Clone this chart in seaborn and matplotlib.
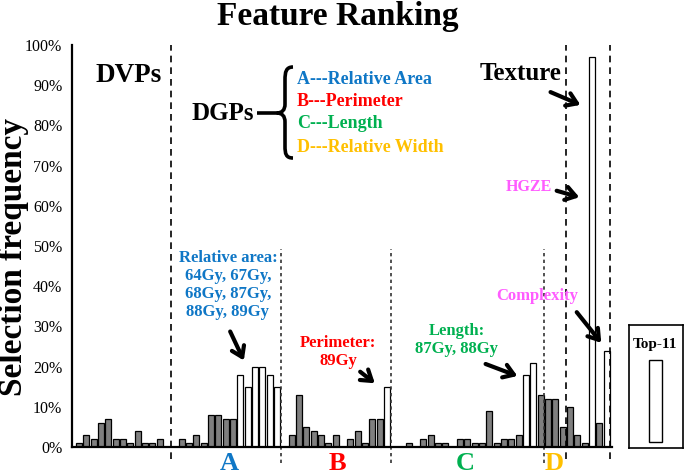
import numpy as np
import pandas as pd
import seaborn as sns
import matplotlib.pyplot as plt
from matplotlib.patches import Rectangle, PathPatch
from matplotlib.path import Path
from matplotlib.transforms import Affine2D

# selection frequency (%) of every feature, one list per feature group
dvp = [1, 3, 2, 6, 7, 2, 2, 1, 4, 1, 1, 2, 0]
rel_area = [0, 2, 1, 3, 1, 8, 8, 7, 7, 18, 15, 20, 20, 18, 15]
perimeter = [0, 3, 13, 5, 4, 3, 1, 3, 0, 2, 4, 1, 7, 7, 15]
length = [0, 0, 1, 0, 2, 3, 1, 1, 0, 2, 2, 1, 1, 9, 1, 2, 2, 3, 18, 21, 13]
rel_width = [12, 12, 5]
texture = [10, 3, 1, 97, 6, 24]
group_vals = [dvp, rel_area, perimeter, length, rel_width, texture]
# positions of the top-11 features in the full sequence
top11 = [22, 23, 24, 25, 26, 27, 42, 61, 62, 70, 72]

yticks = list(range(0, 101, 10))
ytick_labels = [f"{v}%" for v in yticks]

BLUE, RED, GREEN, GOLD, PINK = "#0f77c6", "#ff0000", "#00b050", "#ffc000", "#ff5cff"

W, H = 685, 475

sns.set_theme(style="white")
plt.rcParams["font.family"] = ["Liberation Serif", "DejaVu Serif"]
plt.rcParams["font.weight"] = "bold"
plt.rcParams["text.color"] = "black"
plt.rcParams["axes.labelcolor"] = "black"
plt.rcParams["ytick.color"] = "black"

freq = np.concatenate(group_vals)
df = pd.DataFrame({"slot": np.arange(len(freq)), "freq": freq})
df["kind"] = np.where(df["slot"].isin(top11), "top", "other")

fig = plt.figure(figsize=(W / 100, H / 100), dpi=100)
ax = fig.add_axes([72 / W, 28 / H, 540 / W, 402 / H])
# pixel coordinates (origin top-left) -> figure
px = Affine2D().scale(1 / W, -1 / H).translate(0, 1) + fig.transFigure

sns.barplot(data=df, x="slot", y="freq", hue="kind",
            palette={"other": "#7f7f7f", "top": "white"}, dodge=False,
            width=0.82, edgecolor="black", linewidth=0.9, legend=False, ax=ax)

ax.set_xlim(-0.955, 72.72)
ax.set_ylim(0, 100)
ax.set_xticks([])
ax.set_xlabel("")
ax.set_ylabel("")
ax.set_yticks(yticks)
ax.set_yticklabels(ytick_labels, fontsize=11.5, fontweight="normal", color="black")
ax.tick_params(axis="y", direction="in", length=6, width=1.5, pad=7, colors="black")
for s in ["top", "right"]:
    ax.spines[s].set_visible(False)
for s in ["left", "bottom"]:
    ax.spines[s].set_linewidth(1.6)
    ax.spines[s].set_color("black")

# group dividers
ends = np.cumsum([len(g) for g in group_vals]) - 0.5
for i, x in enumerate(ends):
    if i in (0, 4, 5):
        ax.plot([x, x], [-3, 100], ls=(0, (4, 3)), lw=1.2, color="black", clip_on=False)
    else:
        ax.plot([x, x], [-4, 49.3], ls=(0, (2, 2)), lw=1.2, color="#333333", clip_on=False)

# titles and labels
fig.text(338 / W, 1 - 17 / H, "Feature Ranking", ha="center", va="center", fontsize=24)
fig.text(14 / W, 1 - 257 / H, "Selection frequency", ha="center", va="center",
         rotation=90, fontsize=24)

ax.text(129, 75, "DVPs", transform=px, ha="center", va="center", fontsize=19.5)
ax.text(223, 114, "DGPs", transform=px, ha="center", va="center", fontsize=18)
ax.text(521, 73, "Texture", transform=px, ha="center", va="center", fontsize=18)

legend_lines = [("A---Relative Area", BLUE, 79), ("B---Perimeter", RED, 102),
                ("C---Length", GREEN, 124), ("D---Relative Width", GOLD, 147)]
for s, c, y in legend_lines:
    ax.text(297, y, s, transform=px, ha="left", va="center", fontsize=13, color=c)

# curly brace
verts = [(257, 113), (277, 113),
         (293, 67), (286, 67), (285, 72), (285, 80), (285, 104),
         (285, 110), (282, 113), (277, 113),
         (282, 113), (285, 116), (285, 122), (285, 146),
         (285, 154), (286, 158), (293, 158)]
codes = [Path.MOVETO, Path.LINETO,
         Path.MOVETO, Path.CURVE4, Path.CURVE4, Path.CURVE4, Path.LINETO,
         Path.CURVE4, Path.CURVE4, Path.CURVE4,
         Path.CURVE4, Path.CURVE4, Path.CURVE4, Path.LINETO,
         Path.CURVE4, Path.CURVE4, Path.CURVE4]
fig.add_artist(PathPatch(Path(verts, codes), transform=px, fill=False, lw=2.6, color="black"))

# callouts
ax.text(228, 285, "Relative area:\n64Gy, 67Gy,\n68Gy, 87Gy,\n88Gy, 89Gy", transform=px,
        ha="center", va="center", fontsize=12, color=BLUE, linespacing=1.15)
ax.text(338, 352, "Perimeter:\n89Gy", transform=px, ha="center", va="center",
        fontsize=12, color=RED, linespacing=1.15)
ax.text(457, 340, "Length:\n87Gy, 88Gy", transform=px, ha="center", va="center",
        fontsize=12, color=GREEN, linespacing=1.15)
ax.text(529, 187, "HGZE", transform=px, ha="center", va="center", fontsize=11.5, color=PINK)
ax.text(537, 296, "Complexity", transform=px, ha="center", va="center", fontsize=12, color=PINK)

arrow = dict(arrowstyle="->, head_length=0.6, head_width=0.4", lw=3.0, color="black")
arrows = [((229, 329), (245, 363)), ((358, 370), (377, 385)), ((483, 363), (520, 377)),
          ((548, 91), (583, 106)), ((554, 190), (582, 198)), ((575, 310), (603, 345))]
for (x0, y0), (x1, y1) in arrows:
    ax.annotate("", xy=(x1, y1), xytext=(x0, y0), xycoords=px, textcoords=px,
                arrowprops=arrow, annotation_clip=False)

# section letters
for s, c, x in [("A", BLUE, 229), ("B", RED, 337), ("C", GREEN, 465), ("D", GOLD, 554)]:
    ax.text(x, 464, s, transform=px, ha="center", va="center", fontsize=19, color=c)

# top-11 key
kax = fig.add_axes([629 / W, 1 - 448 / H, 54 / W, 123 / H])
kax.set_xticks([])
kax.set_yticks([])
for s in kax.spines.values():
    s.set_linewidth(1.2)
    s.set_color("black")
kax.add_patch(Rectangle((0.376, 0.049), 0.23, 0.666, facecolor="white",
                        edgecolor="black", lw=1.0))
kax.text(0.48, 0.84, "Top-11", ha="center", va="center", fontsize=11)

fig.savefig("out.png", dpi=100)
